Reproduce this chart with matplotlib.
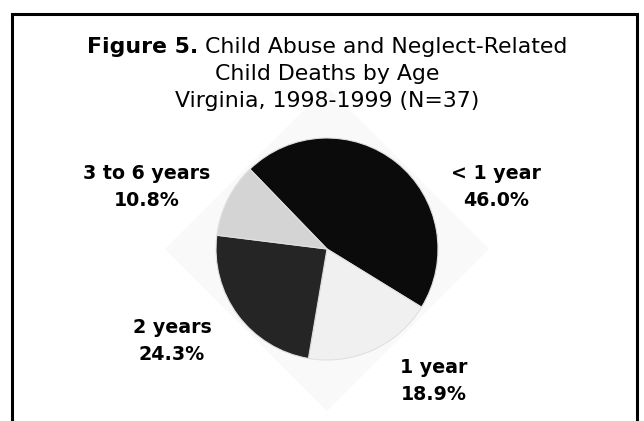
import matplotlib.pyplot as plt
from matplotlib.patches import Polygon, Rectangle

plt.rcParams['font.family'] = ['DejaVu Sans']

# data
ages = ['< 1 year', '1 year', '2 years', '3 to 6 years']
percents = [46.0, 18.9, 24.3, 10.8]
colors = ['#0b0b0b', '#f0f0f0', '#252525', '#d4d4d4']

W, H = 644, 421
fig = plt.figure(figsize=(W / 100, H / 100), dpi=100)
ax = fig.add_axes([0, 0, 1, 1])

cx, cy, r = 327, H - 249, 111

# faint diamond behind the pie
d = 162
ax.add_patch(Polygon([(cx, cy + d), (cx + d, cy), (cx, cy - d), (cx - d, cy)],
                     closed=True, facecolor='#f9f9f9', edgecolor='none', zorder=0))

ax.pie(percents, colors=colors, startangle=134, counterclock=False,
       center=(cx, cy), radius=r, wedgeprops=dict(linewidth=0.8, edgecolor='#e0e0e0'))

ax.set_xlim(0, W)
ax.set_ylim(0, H)
ax.set_aspect('equal')
ax.axis('off')

# frame
ax.add_patch(Rectangle((12, -5), 625, H - 14 + 5, fill=False, edgecolor='black',
                       linewidth=2.2, zorder=5))

# labels (x centre, baseline of first line)
label_pos = [(496, 179), (434, 373), (172, 333), (147, 179)]
for i, (x, y) in enumerate(label_pos):
    ax.text(x, H - y, ages[i], ha='center', va='baseline', fontsize=13.7, fontweight='bold')
    ax.text(x, H - y - 27, f'{percents[i]:.1f}%', ha='center', va='baseline',
            fontsize=13.7, fontweight='bold')

# title
t1 = ax.text(0, H - 53, 'Figure 5.', ha='left', va='baseline', fontsize=15.8, fontweight='heavy')
t2 = ax.text(0, H - 53, ' Child Abuse and Neglect-Related', ha='left', va='baseline',
             fontsize=15.8)
fig.canvas.draw()
rend = fig.canvas.get_renderer()
w1 = t1.get_window_extent(rend).width
w2 = t2.get_window_extent(rend).width
x0 = 327 - (w1 + w2) / 2
t1.set_x(x0)
t2.set_x(x0 + w1)
ax.text(327, H - 80, 'Child Deaths by Age', ha='center', va='baseline', fontsize=15.8)
ax.text(327, H - 107, 'Virginia, 1998-1999 (N=37)', ha='center', va='baseline', fontsize=15.8)

fig.savefig('out.png', dpi=100)
